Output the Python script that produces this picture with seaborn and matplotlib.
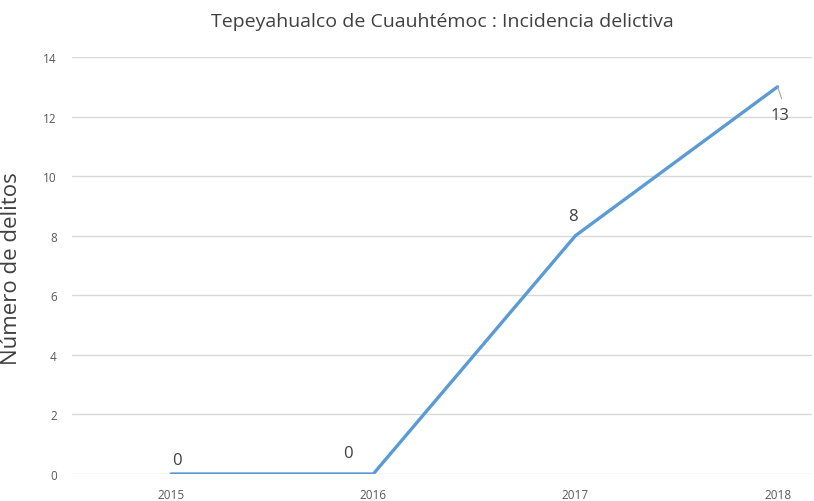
import pandas as pd
import seaborn as sns
import matplotlib.pyplot as plt

# datos
anios = [2015, 2016, 2017, 2018]
delitos = [0, 0, 8, 13]
titulo = "Tepeyahualco de Cuauhtémoc : Incidencia delictiva"
etiqueta_y = "Número de delitos"

df = pd.DataFrame({"Año": anios, "Delitos": delitos})

sns.set_style("white")
plt.rcParams["font.family"] = ["Open Sans", "DejaVu Sans"]

fig = plt.figure(figsize=(8.14, 5.02), dpi=100)
ax = fig.add_axes([0.0885, 0.0538, 0.909, 0.8307])

sns.lineplot(data=df, x="Año", y="Delitos", color="#5B9BD5", linewidth=2.4, ax=ax)

ax.set_ylim(0, 14)
ax.set_xlim(2014.51, 2018.17)
ax.set_yticks(range(0, 15, 2))
ax.set_xticks(anios)
ax.set_xticklabels([str(a) for a in anios])
ax.yaxis.grid(True, color="#D9D9D9", linewidth=1)
ax.set_axisbelow(True)
for s in ax.spines.values():
    s.set_visible(False)
ax.tick_params(axis="both", length=0, labelsize=8.5, colors="#595959")
ax.tick_params(axis="y", pad=11)
ax.tick_params(axis="x", pad=10)
ax.set_xlabel("")
ax.set_ylabel(etiqueta_y, fontsize=16, color="#404040")
ax.yaxis.set_label_coords(-0.068, 0.494)
ax.set_title(titulo, fontsize=14, color="#404040", pad=22)

# etiquetas de datos
desplaz = [(4, 10), (-18, 15), (-2, 14), (2, -20)]
for (a, d), (dx, dy) in zip(zip(anios, delitos), desplaz):
    ax.annotate(str(d), xy=(a, d), xytext=(dx, dy), textcoords="offset points",
                ha="center", va="center", fontsize=12, color="#404040")
ax.plot([2018, 2018 + 0.02], [13, 12.6], color="#A6A6A6", linewidth=0.8)

fig.savefig("out.png", dpi=100)
